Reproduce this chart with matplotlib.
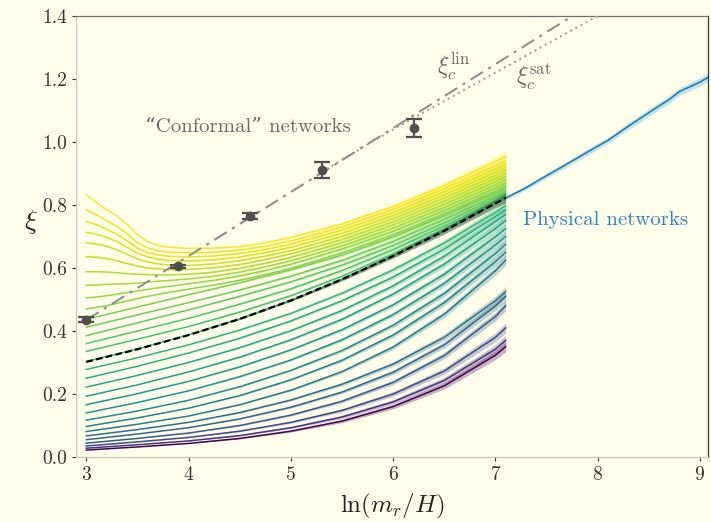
import numpy as np
import matplotlib
matplotlib.use("Agg")
import matplotlib.pyplot as plt

plt.rcParams['font.family'] = ['cmr10', 'DejaVu Serif']
plt.rcParams['mathtext.fontset'] = 'cm'
plt.rcParams['axes.formatter.use_mathtext'] = True

# ---------------- data ----------------
# grid for the upper (dipping) curves
XU = [3.0, 3.1, 3.2, 3.3, 3.4, 3.5, 3.6, 3.7, 3.8, 4.0, 4.25, 4.5, 4.75, 5.0, 5.5, 6.0, 6.5, 7.0, 7.1]
upper_curves = [
    [0.832, 0.808, 0.785, 0.765, 0.738, 0.705, 0.684, 0.672, 0.666, 0.662, 0.663, 0.668, 0.680, 0.697, 0.740, 0.795, 0.862, 0.938, 0.955],
    [0.785, 0.768, 0.750, 0.732, 0.708, 0.680, 0.664, 0.655, 0.650, 0.648, 0.650, 0.657, 0.669, 0.686, 0.730, 0.786, 0.852, 0.924, 0.940],
    [0.748, 0.737, 0.722, 0.707, 0.686, 0.663, 0.649, 0.641, 0.637, 0.635, 0.638, 0.646, 0.659, 0.676, 0.720, 0.776, 0.842, 0.914, 0.930],
    [0.713, 0.707, 0.697, 0.684, 0.665, 0.647, 0.635, 0.628, 0.624, 0.622, 0.626, 0.635, 0.649, 0.666, 0.710, 0.766, 0.832, 0.904, 0.920],
    [0.680, 0.676, 0.669, 0.658, 0.643, 0.629, 0.619, 0.613, 0.610, 0.608, 0.613, 0.623, 0.638, 0.655, 0.700, 0.756, 0.822, 0.894, 0.910],
    [0.636, 0.634, 0.630, 0.623, 0.614, 0.606, 0.600, 0.597, 0.595, 0.595, 0.601, 0.611, 0.627, 0.645, 0.690, 0.746, 0.812, 0.884, 0.900],
    [0.588, 0.588, 0.587, 0.585, 0.582, 0.580, 0.579, 0.578, 0.578, 0.580, 0.587, 0.599, 0.615, 0.634, 0.680, 0.736, 0.802, 0.874, 0.890],
    [0.545, 0.546, 0.548, 0.549, 0.550, 0.552, 0.555, 0.558, 0.560, 0.565, 0.574, 0.587, 0.604, 0.623, 0.670, 0.726, 0.792, 0.864, 0.880],
    [0.505, 0.508, 0.512, 0.517, 0.522, 0.527, 0.532, 0.537, 0.541, 0.550, 0.561, 0.575, 0.592, 0.612, 0.660, 0.716, 0.782, 0.854, 0.870],
    [0.470, 0.475, 0.480, 0.488, 0.495, 0.503, 0.510, 0.516, 0.522, 0.533, 0.546, 0.561, 0.579, 0.599, 0.648, 0.705, 0.772, 0.844, 0.860],
]
band_err_u = [0, 0, 0, 0, 0, 0, 0, 0, 0, 0, 0.001, 0.002, 0.0025, 0.003, 0.005, 0.007, 0.010, 0.014, 0.016]

# grid for the middle and lower curves
X = [3.0, 3.5, 4.0, 4.5, 5.0, 5.5, 6.0, 6.5, 7.0, 7.1]
middle_curves = [
    [0.437, 0.476, 0.515, 0.553, 0.594, 0.641, 0.698, 0.766, 0.838, 0.853],
    [0.412, 0.451, 0.490, 0.530, 0.574, 0.624, 0.684, 0.754, 0.829, 0.845],
    [0.385, 0.426, 0.467, 0.510, 0.556, 0.609, 0.671, 0.743, 0.822, 0.839],
    [0.360, 0.400, 0.440, 0.485, 0.534, 0.592, 0.658, 0.733, 0.815, 0.833],
    [0.335, 0.374, 0.414, 0.460, 0.512, 0.574, 0.645, 0.724, 0.810, 0.828],
    [0.303, 0.343, 0.388, 0.439, 0.497, 0.564, 0.638, 0.718, 0.805, 0.823],
]
lower_curves = [
    [0.278, 0.315, 0.356, 0.403, 0.456, 0.520, 0.594, 0.679, 0.777, 0.798],
    [0.250, 0.288, 0.330, 0.377, 0.432, 0.496, 0.571, 0.660, 0.763, 0.785],
    [0.222, 0.259, 0.300, 0.347, 0.401, 0.465, 0.543, 0.637, 0.747, 0.770],
    [0.193, 0.229, 0.270, 0.317, 0.372, 0.437, 0.517, 0.612, 0.725, 0.750],
    [0.166, 0.201, 0.240, 0.286, 0.340, 0.404, 0.483, 0.580, 0.699, 0.725],
    [0.140, 0.173, 0.210, 0.255, 0.308, 0.372, 0.452, 0.551, 0.673, 0.700],
    [0.117, 0.146, 0.180, 0.223, 0.275, 0.338, 0.418, 0.519, 0.646, 0.675],
    [0.097, 0.124, 0.155, 0.195, 0.245, 0.307, 0.387, 0.490, 0.620, 0.650],
    [0.081, 0.104, 0.130, 0.166, 0.212, 0.271, 0.349, 0.453, 0.591, 0.625],
    [0.067, 0.087, 0.110, 0.141, 0.181, 0.231, 0.295, 0.380, 0.496, 0.525],
    [0.055, 0.073, 0.093, 0.121, 0.158, 0.206, 0.269, 0.356, 0.479, 0.510],
    [0.044, 0.059, 0.076, 0.100, 0.133, 0.177, 0.237, 0.322, 0.446, 0.480],
    [0.035, 0.048, 0.062, 0.082, 0.110, 0.148, 0.200, 0.273, 0.380, 0.410],
    [0.028, 0.039, 0.051, 0.068, 0.093, 0.127, 0.175, 0.243, 0.342, 0.370],
    [0.022, 0.032, 0.043, 0.059, 0.082, 0.114, 0.160, 0.226, 0.323, 0.350],
]
band_err = [0.0, 0.0, 0.0, 0.002, 0.003, 0.005, 0.007, 0.010, 0.014, 0.016]

# black dashed reference curve
dashed_y = [0.302, 0.342, 0.387, 0.438, 0.497, 0.564, 0.638, 0.718, 0.805, 0.823]

# physical networks (blue)
phys_x = [7.1, 7.3, 7.5, 7.7, 7.9, 8.1, 8.3, 8.5, 8.7, 8.8, 8.9, 9.0, 9.08]
phys_y = [0.822, 0.855, 0.893, 0.930, 0.968, 1.005, 1.050, 1.093, 1.135, 1.160, 1.175, 1.190, 1.205]
phys_err = [0.006, 0.007, 0.008, 0.009, 0.010, 0.010, 0.011, 0.012, 0.012, 0.013, 0.013, 0.014, 0.014]

# conformal-network points with error bars
pts_x = [3.0, 3.9, 4.6, 5.3, 6.2]
pts_y = [0.435, 0.605, 0.765, 0.910, 1.045]
pts_err = [0.008, 0.006, 0.008, 0.025, 0.028]

# xi_c lines
lin_x = [3.0, 8.0]
lin_y = [0.435, 1.450]
sat_x = [5.3, 6.0, 6.5, 7.0, 7.5, 8.0, 8.1]
sat_y = [0.905, 1.040, 1.130, 1.220, 1.310, 1.400, 1.418]

# ---------------- plot ----------------
bg = '#fffeea'
fig = plt.figure(figsize=(7.11, 5.22), dpi=100, facecolor=bg)
ax = fig.add_axes([0.107, 0.1245, 0.889, 0.845], facecolor=bg)

groups = ([(X, c, band_err) for c in lower_curves[::-1]]
          + [(X, c, band_err) for c in middle_curves[::-1]]
          + [(XU, c, band_err_u) for c in upper_curves[::-1]])
n = len(groups)
cmap = plt.get_cmap('viridis')
for i, (xg, ys, eg) in enumerate(groups):
    c = cmap((i / (n - 1)) ** 0.55)
    xg = np.array(xg); ys = np.array(ys); eg = np.array(eg)
    ax.fill_between(xg, ys - eg, ys + eg, color=c, alpha=0.3, lw=0)
    ax.plot(xg, ys, color=c, lw=1.1, zorder=2)

Xa = np.array(X); err = np.array(band_err)
dy = np.array(dashed_y)
ax.fill_between(Xa, dy - err, dy + err, color='#333333', alpha=0.35, lw=0, zorder=3)
ax.plot(Xa, dy, color='black', lw=1.6, ls=(0, (3, 1.5)), zorder=4)

py = np.array(phys_y); pe = np.array(phys_err)
ax.fill_between(phys_x, py - pe, py + pe, color='#7ec8e3', alpha=0.45, lw=0)
ax.plot(phys_x, py, color='#2b7bb0', lw=1.2)

ax.plot(lin_x, lin_y, color='#8f8f8f', lw=1.5, ls=(0, (7, 3, 1.5, 3)), zorder=3)
ax.plot(sat_x, sat_y, color='#9a9a9a', lw=1.4, ls=(0, (1, 2)), zorder=3)
ax.errorbar(pts_x, pts_y, yerr=pts_err, fmt='o', color='#4f4f4f', ms=6,
            capsize=6, elinewidth=1.6, capthick=1.6, zorder=5)

ax.text(3.57, 1.048, '\u201cConformal\u201d networks', color='#6a6a6a', fontsize=15,
        va='center', ha='left')
ax.text(7.27, 0.752, 'Physical networks', color='#2f86bd', fontsize=15,
        va='center', ha='left')
ax.text(6.43, 1.24, r'$\xi_c^{\rm lin}$', color='#6a6a6a', fontsize=17, va='center')
ax.text(7.2, 1.205, r'$\xi_c^{\rm sat}$', color='#6a6a6a', fontsize=17, va='center')

ax.set_xlim(2.9, 9.08)
ax.set_ylim(0, 1.4)
ax.set_xticks([3, 4, 5, 6, 7, 8, 9])
ax.set_yticks([0.0, 0.2, 0.4, 0.6, 0.8, 1.0, 1.2, 1.4])
ax.set_yticklabels(['0.0', '0.2', '0.4', '0.6', '0.8', '1.0', '1.2', '1.4'])
ax.tick_params(labelsize=14, colors='#333333', length=3, width=0.8)
ax.set_xlabel(r'$\ln(m_r/H)$', fontsize=18, color='#222222', labelpad=6)
ax.set_ylabel(r'$\xi$', fontsize=20, color='#222222', rotation=0, labelpad=8)

ax.spines['left'].set_color('#c8c8c0')
ax.spines['bottom'].set_color('#c8c8c0')
ax.spines['top'].set_color('#707070')
ax.spines['right'].set_color('#333333')
for s in ax.spines.values():
    s.set_linewidth(0.9)

fig.savefig('out.png', dpi=100, facecolor=bg)
